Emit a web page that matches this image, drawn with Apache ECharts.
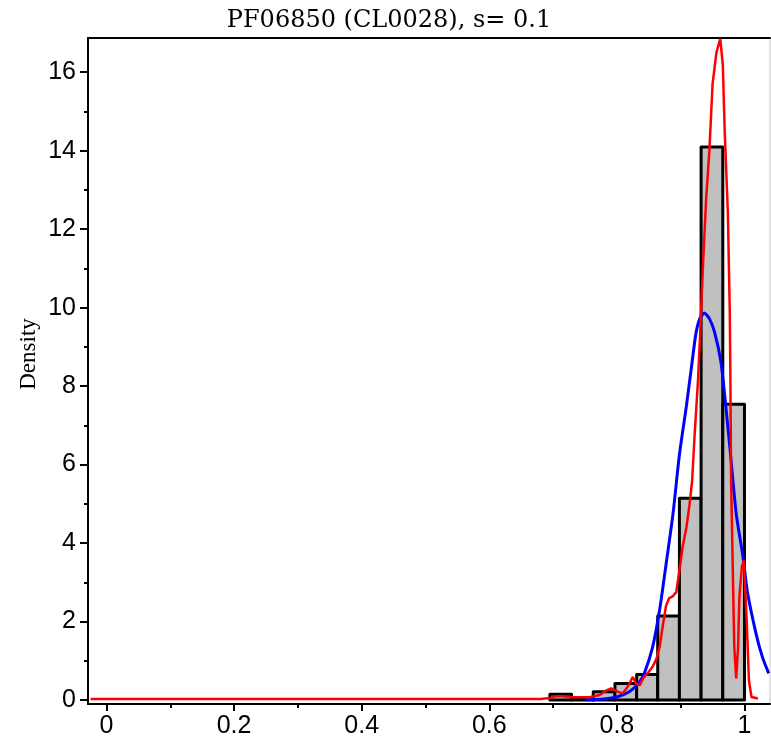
<!DOCTYPE html>
<html>
<head>
<meta charset="utf-8">
<script src="https://cdn.jsdelivr.net/npm/echarts@6/dist/echarts.min.js"></script>
<style>
html,body{margin:0;padding:0;background:#fff;}
#chart{width:771px;height:747px;}
</style>
</head>
<body>
<div id="chart"></div>
<script>
// ---- data ----
const titleText = 'PF06850 (CL0028), s= 0.1';
const yAxisName = 'Density';
const xMajorTicks = [0, 0.2, 0.4, 0.6, 0.8, 1];
const xMinorTicks = [0.1, 0.3, 0.5, 0.7, 0.9];
const yMajorTicks = [0, 2, 4, 6, 8, 10, 12, 14, 16];
const yMinorTicks = [1, 3, 5, 7, 9, 11, 13, 15];
const binEdges = [0.695, 0.729, 0.763, 0.797, 0.831, 0.864, 0.898, 0.932, 0.966, 1.0];
const binDensity = [0.15, 0.04, 0.21, 0.42, 0.65, 2.14, 5.14, 14.09, 7.54];
const blueX = [0.75, 0.78, 0.80, 0.82, 0.835, 0.843, 0.856, 0.867, 0.877, 0.888, 0.898, 0.909, 0.917, 0.924, 0.930, 0.937, 0.945, 0.953, 0.963, 0.970, 0.977, 0.987, 0.997, 1.005, 1.018, 1.028, 1.038];
const blueY = [0.01, 0.03, 0.08, 0.22, 0.45, 0.68, 1.35, 2.3, 3.45, 4.75, 6.25, 7.5, 8.5, 9.35, 9.72, 9.86, 9.72, 9.38, 8.62, 7.6, 6.45, 4.75, 3.72, 2.72, 1.7, 1.1, 0.68];
const redX = [-0.025, 0.68, 0.695, 0.705, 0.715, 0.726, 0.757, 0.773, 0.783, 0.791, 0.802, 0.809, 0.817, 0.825, 0.830, 0.836, 0.841, 0.849, 0.856, 0.862, 0.867, 0.872, 0.877, 0.882, 0.888, 0.893, 0.898, 0.903, 0.909, 0.914, 0.918, 0.922, 0.927, 0.931, 0.935, 0.940, 0.945, 0.950, 0.956, 0.962, 0.966, 0.969, 0.974, 0.977, 0.978, 0.979, 0.982, 0.984, 0.987, 0.990, 0.992, 0.996, 0.999, 1.003, 1.007, 1.011, 1.021];
const redY = [0.03, 0.03, 0.05, 0.1, 0.1, 0.07, 0.07, 0.13, 0.24, 0.3, 0.21, 0.17, 0.34, 0.59, 0.42, 0.38, 0.55, 0.7, 0.85, 1.05, 1.35, 1.9, 2.4, 2.6, 2.65, 2.75, 3.3, 3.9, 4.4, 5.0, 5.6, 6.8, 8.1, 9.5, 11.1, 12.8, 14.0, 15.7, 16.5, 16.85, 16.2, 14.5, 12.4, 9.85, 8.06, 5.6, 3.06, 1.36, 0.55, 1.36, 2.63, 3.4, 3.56, 2.2, 0.5, 0.08, 0.04];

// ---- chart ----
const X_MIN = -0.029, X_MAX = 1.04, Y_MIN = -0.1, Y_MAX = 16.87;
const fmt = v => String(+(+v).toFixed(2));
const labelFont = {fontFamily: '"Liberation Sans", Arial, sans-serif', fontSize: 25, color: '#000'};

const histData = binDensity.map((d, i) => [binEdges[i], binEdges[i + 1], d]);

const chart = echarts.init(document.getElementById('chart'), null, {renderer: 'canvas'});
chart.setOption({
  animation: false,
  backgroundColor: '#fff',
  grid: {left: 88, top: 38, right: 1, bottom: 43, show: true, borderColor: '#c8c8c8', borderWidth: 1, containLabel: false},
  graphic: [
    {type: 'text', x: 389, y: 21, style: {text: titleText, font: '24px "DejaVu Serif"', fill: '#000', align: 'center', verticalAlign: 'middle'}},
    {type: 'text', x: 29, y: 354, rotation: Math.PI / 2, style: {text: yAxisName, font: '23px "Liberation Serif"', fill: '#000', align: 'center', verticalAlign: 'middle'}}
  ],
  xAxis: [
    {type: 'value', min: X_MIN, max: X_MAX, position: 'bottom',
      axisLine: {show: true, onZero: false, lineStyle: {color: '#000', width: 2}},
      axisTick: {show: true, customValues: xMajorTicks, length: 7, lineStyle: {color: '#000', width: 2}},
      axisLabel: Object.assign({show: true, customValues: xMajorTicks, margin: 10, formatter: fmt}, labelFont),
      splitLine: {show: false}},
    {type: 'value', min: X_MIN, max: X_MAX, position: 'bottom',
      axisLine: {show: false, onZero: false},
      axisTick: {show: true, customValues: xMinorTicks, length: 4, lineStyle: {color: '#000', width: 2}},
      axisLabel: {show: false}, splitLine: {show: false}},
    {type: 'value', min: X_MIN, max: X_MAX, position: 'top',
      axisLine: {show: true, onZero: false, lineStyle: {color: '#000', width: 2}},
      axisTick: {show: false}, axisLabel: {show: false}, splitLine: {show: false}}
  ],
  yAxis: [
    {type: 'value', min: Y_MIN, max: Y_MAX, position: 'left',
      axisLine: {show: true, onZero: false, lineStyle: {color: '#000', width: 2}},
      axisTick: {show: true, customValues: yMajorTicks, length: 8, lineStyle: {color: '#000', width: 2}},
      axisLabel: Object.assign({show: true, customValues: yMajorTicks, margin: 12, formatter: fmt}, labelFont),
      splitLine: {show: false}},
    {type: 'value', min: Y_MIN, max: Y_MAX, position: 'left',
      axisLine: {show: false, onZero: false},
      axisTick: {show: true, customValues: yMinorTicks, length: 4, lineStyle: {color: '#000', width: 2}},
      axisLabel: {show: false}, splitLine: {show: false}}
  ],
  series: [
    {type: 'custom', xAxisIndex: 0, yAxisIndex: 0, data: histData, encode: {x: [0, 1], y: 2}, z: 2,
      renderItem: function (params, api) {
        const p0 = api.coord([api.value(0), api.value(2)]);
        const p1 = api.coord([api.value(1), 0]);
        return {type: 'rect', shape: {x: p0[0], y: p0[1], width: p1[0] - p0[0], height: p1[1] - p0[1]},
          style: {fill: '#c0c0c0', stroke: '#000', lineWidth: 3, lineJoin: 'round'}};
      }},
    {type: 'line', xAxisIndex: 0, yAxisIndex: 0, data: blueX.map((x, i) => [x, blueY[i]]), showSymbol: false, smooth: 0.25, z: 3,
      lineStyle: {color: '#0000ff', width: 3}},
    {type: 'line', xAxisIndex: 0, yAxisIndex: 0, data: redX.map((x, i) => [x, redY[i]]), showSymbol: false, smooth: false, z: 4,
      lineStyle: {color: '#ff0000', width: 2.5}}
  ]
});
</script>
</body>
</html>
